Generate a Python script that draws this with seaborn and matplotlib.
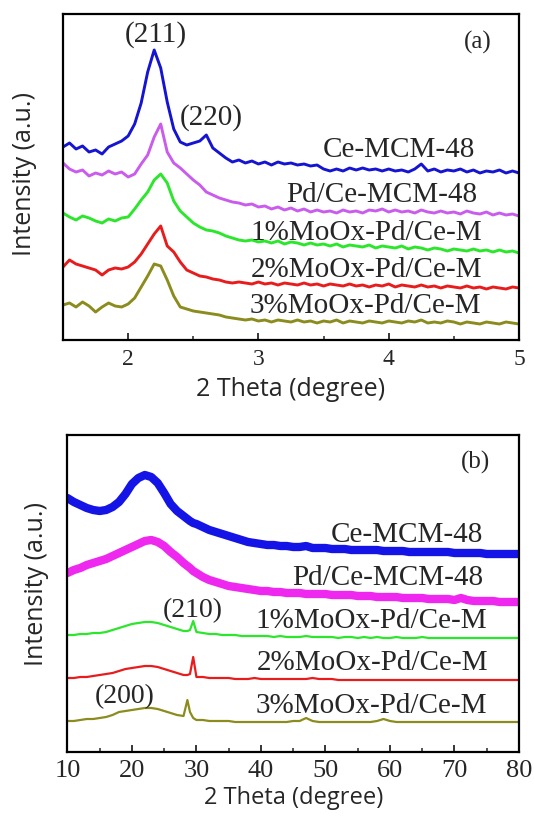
import numpy as np
import pandas as pd
import matplotlib
matplotlib.use("Agg")
import matplotlib.pyplot as plt
import seaborn as sns
from matplotlib.ticker import MultipleLocator, NullLocator

sns.set_theme(style="ticks")
plt.rcParams['font.family'] = ['Liberation Serif', 'DejaVu Serif']

# ---------------- panel (a): low-angle XRD ----------------
theta_a = np.round(np.arange(1.50, 5.0001, 0.05), 2)

ce_a = [193, 197, 191, 194, 188, 190, 186, 193, 196, 199,
        204, 216, 237, 268, 290, 272, 238, 211, 198, 195,
        197, 199, 205, 192, 187, 182, 178, 180, 177, 179,
        176, 178, 175, 178, 176, 177, 175, 176, 174, 175,
        171, 169, 171, 169, 172, 170, 172, 170, 171, 169,
        171, 169, 170, 168, 171, 176, 169, 171, 168, 170,
        169, 171, 168, 170, 167, 169, 168, 170, 167, 169, 167]
pd_a = [177, 171, 168, 170, 164, 167, 165, 169, 166, 168,
        163, 166, 176, 185, 203, 216, 188, 177, 172, 166,
        160, 155, 148, 145, 142, 140, 138, 137, 135, 136,
        133, 134, 131, 133, 130, 132, 129, 131, 128, 130,
        128, 129, 127, 130, 128, 129, 127, 130, 129, 131,
        128, 130, 128, 129, 127, 130, 128, 127, 129, 127,
        128, 126, 129, 127, 126, 128, 125, 127, 125, 126, 124]
mo1_a = [127, 123, 120, 124, 122, 119, 117, 121, 119, 122,
         123, 131, 140, 148, 160, 166, 157, 139, 129, 123,
         117, 113, 110, 109, 107, 104, 102, 100, 99, 100,
         98, 99, 97, 99, 96, 98, 97, 95, 97, 95,
         96, 94, 96, 93, 95, 94, 93, 95, 92, 94,
         93, 92, 94, 91, 93, 92, 90, 92, 91, 89,
         91, 90, 89, 91, 89, 90, 88, 90, 88, 89, 87]
mo2_a = [73, 80, 76, 74, 72, 70, 65, 70, 72, 71,
         73, 78, 86, 96, 106, 114, 94, 88, 78, 70,
         67, 64, 63, 61, 60, 58, 57, 58, 57, 56,
         58, 56, 57, 55, 57, 56, 55, 57, 55, 56,
         54, 56, 55, 54, 56, 54, 55, 53, 55, 54,
         56, 53, 55, 54, 53, 55, 53, 54, 52, 54,
         53, 52, 54, 52, 53, 51, 53, 52, 51, 53, 52]
mo3_a = [35, 37, 33, 38, 34, 28, 33, 37, 34, 33,
         36, 42, 53, 64, 76, 74, 60, 44, 33, 31,
         29, 28, 27, 26, 25, 23, 22, 21, 20, 21,
         19, 20, 18, 20, 19, 18, 20, 18, 19, 17,
         19, 18, 20, 17, 19, 18, 17, 19, 18, 17,
         19, 18, 17, 19, 18, 20, 17, 18, 17, 19,
         18, 16, 18, 17, 16, 18, 17, 16, 18, 17, 16]

# ---------------- panel (b): wide-angle XRD ----------------
theta_b = [10, 11, 12, 13, 14, 15, 16, 17, 18, 19, 20, 21, 22, 23, 24, 25,
           26, 27, 28, 28.6, 29, 29.5, 30, 31, 32, 33, 34, 35, 36, 37, 38,
           39, 40, 41, 42, 43, 44, 45, 46, 47, 48, 49, 50, 51, 52, 53, 54,
           55, 56, 57, 58, 59, 60, 61, 62, 63, 64, 65, 66, 67, 68, 69, 70,
           71, 72, 73, 74, 75, 76, 77, 78, 79, 80]

ce_b = [254, 250, 247, 244, 242, 241, 242, 245, 250, 258, 268, 274, 277, 275, 269, 259,
        248, 241, 236, 233, 231, 229, 228, 225, 222, 220, 218, 216, 214, 212, 210,
        209, 208, 207, 207, 206, 206, 205, 205, 206, 204, 204, 204, 203, 203, 203, 202,
        202, 202, 202, 202, 201, 201, 201, 201, 200, 200, 200, 200, 200, 200, 200, 199,
        199, 199, 199, 199, 198, 198, 198, 198, 198, 198]
pd_b = [179, 182, 184, 187, 189, 191, 193, 196, 199, 202, 205, 208, 211, 212, 210, 206,
        200, 195, 189, 186, 184, 181, 179, 175, 172, 170, 168, 166, 165, 164, 163,
        162, 161, 161, 160, 160, 159, 159, 159, 158, 158, 158, 158, 157, 157, 157, 157,
        156, 156, 156, 155, 155, 155, 155, 154, 154, 154, 154, 153, 153, 153, 153, 152,
        154, 152, 151, 151, 151, 151, 150, 150, 150, 150]
mo1_b = [117, 117, 118, 118, 119, 119, 120, 122, 124, 126, 128, 129, 130, 130, 129, 127,
         125, 123, 121, 121, 122, 131, 120, 119, 118, 118, 117, 117, 117, 116, 116,
         116, 116, 116, 115, 116, 115, 115, 115, 116, 115, 115, 115, 115, 114, 115, 115,
         114, 115, 114, 115, 114, 114, 115, 114, 114, 114, 115, 114, 114, 114, 114, 114,
         114, 114, 114, 114, 114, 114, 114, 114, 114, 114]
mo2_b = [74, 74, 75, 75, 76, 77, 78, 79, 81, 83, 84, 85, 86, 86, 85, 83,
         81, 79, 77, 77, 78, 95, 75, 75, 74, 74, 74, 74, 73, 73, 73,
         74, 73, 73, 73, 73, 73, 73, 73, 73, 74, 73, 73, 73, 72, 72, 72,
         72, 72, 72, 72, 72, 72, 72, 72, 72, 72, 72, 72, 72, 72, 72, 72,
         72, 72, 72, 72, 72, 72, 72, 72, 72, 72]
mo3_b = [31, 31, 32, 33, 33, 34, 35, 37, 40, 41, 42, 43, 44, 44, 43, 41,
         39, 37, 36, 52, 40, 34, 32, 32, 31, 31, 31, 31, 30, 30, 30,
         30, 30, 30, 30, 30, 30, 31, 31, 34, 31, 30, 30, 30, 30, 30, 30,
         30, 30, 30, 31, 33, 31, 30, 30, 30, 30, 30, 30, 30, 30, 30, 30,
         30, 30, 30, 30, 30, 30, 30, 30, 30, 30]

sample_names = ["Ce-MCM-48", "Pd/Ce-MCM-48", "1%MoOx-Pd/Ce-M",
                "2%MoOx-Pd/Ce-M", "3%MoOx-Pd/Ce-M"]
colors_a = ["#1414d2", "#c95ced", "#2ce62c", "#e81c1c", "#8c8c1e"]
colors_b = ["#1414e6", "#ee28ee", "#2ce62c", "#e81c1c", "#8c8c1e"]

series_a = [ce_a, pd_a, mo1_a, mo2_a, mo3_a]
series_b = [ce_b, pd_b, mo1_b, mo2_b, mo3_b]

df_a = pd.concat([pd.DataFrame({"theta": theta_a, "I": np.asarray(v, float), "sample": n})
                  for n, v in zip(sample_names, series_a)], ignore_index=True)
df_b = pd.concat([pd.DataFrame({"theta": theta_b, "I": np.asarray(v, float), "sample": n})
                  for n, v in zip(sample_names, series_b)], ignore_index=True)

W, H = 534, 816
fig = plt.figure(figsize=(W / 100, H / 100), dpi=100)
ax1 = fig.add_axes([63 / W, 1 - 340 / H, (519 - 63) / W, (340 - 14) / H])
ax2 = fig.add_axes([67.4 / W, 1 - 752 / H, (519 - 67.4) / W, (752 - 434.5) / H])

for n, c in zip(sample_names, colors_a):
    sns.lineplot(data=df_a[df_a["sample"] == n], x="theta", y="I", color=c,
                 linewidth=2.1, estimator=None, sort=False, ax=ax1, legend=False)

widths_b = [6.0, 6.0, 1.6, 1.6, 1.6]
for n, c, lw in zip(sample_names, colors_b, widths_b):
    sns.lineplot(data=df_b[df_b["sample"] == n], x="theta", y="I", color=c,
                 linewidth=lw, estimator=None, sort=False, ax=ax2, legend=False)

ax1.set_xlim(1.5, 5.0)
ax1.set_ylim(0, 326)
ax2.set_xlim(10, 80)
ax2.set_ylim(0, 317.5)

ax1.xaxis.set_major_locator(MultipleLocator(1))
ax1.xaxis.set_minor_locator(MultipleLocator(0.5))
ax2.xaxis.set_major_locator(MultipleLocator(10))
ax2.xaxis.set_minor_locator(MultipleLocator(5))

for ax, fs, pad in ((ax1, 17, 6.5), (ax2, 19, 6)):
    ax.yaxis.set_major_locator(NullLocator())
    ax.yaxis.set_minor_locator(NullLocator())
    for s in ax.spines.values():
        s.set_linewidth(1.6)
        s.set_color("black")
        s.set_visible(True)
    ax.tick_params(axis="x", which="major", direction="in", length=5, width=1.3,
                   labelsize=fs, pad=pad, top=False)
    ax.tick_params(axis="x", which="minor", direction="in", length=3, width=1.1, top=False)
    ax.set_facecolor("white")
    ax.set_ylabel("Intensity (a.u.)", family=["Open Sans", "DejaVu Sans"], fontsize=18)

ax1.set_xlabel("2 Theta (degree)", family=["Open Sans", "DejaVu Sans"], fontsize=18)
ax2.set_xlabel("2 Theta (degree)", family=["Open Sans", "DejaVu Sans"], fontsize=17)

ax1.yaxis.set_label_coords(-0.057, 0.51)
ax2.yaxis.set_label_coords(-0.041, 0.53)
ax1.xaxis.set_label_coords(0.5, -0.115)
ax2.xaxis.set_label_coords(0.502, -0.108)

# curve labels
lab_fs = 21
pos_a = [(4.66, 183), (4.68, 138), (4.72, 100), (4.72, 63), (4.71, 27)]
for (x, y), n in zip(pos_a, sample_names):
    ax1.text(x, y, n, ha="right", va="baseline", fontsize=lab_fs)
pos_b = [(74.4, 210), (74.4, 167), (75.0, 124), (75.2, 82), (75.0, 39)]
for (x, y), n in zip(pos_b, sample_names):
    ax2.text(x, y, n, ha="right", va="baseline", fontsize=lab_fs)

ax1.text(2.215, 298, "(211)", ha="center", va="baseline", fontsize=21)
ax1.text(2.64, 215, "(220)", ha="center", va="baseline", fontsize=21)
ax1.text(4.68, 291, "(a)", ha="center", va="baseline", fontsize=18)
ax2.text(29.5, 135, "(210)", ha="center", va="baseline", fontsize=20)
ax2.text(18.9, 49, "(200)", ha="center", va="baseline", fontsize=20)
ax2.text(73.2, 283, "(b)", ha="center", va="baseline", fontsize=18)

fig.savefig("out.png", dpi=100, facecolor="white")
